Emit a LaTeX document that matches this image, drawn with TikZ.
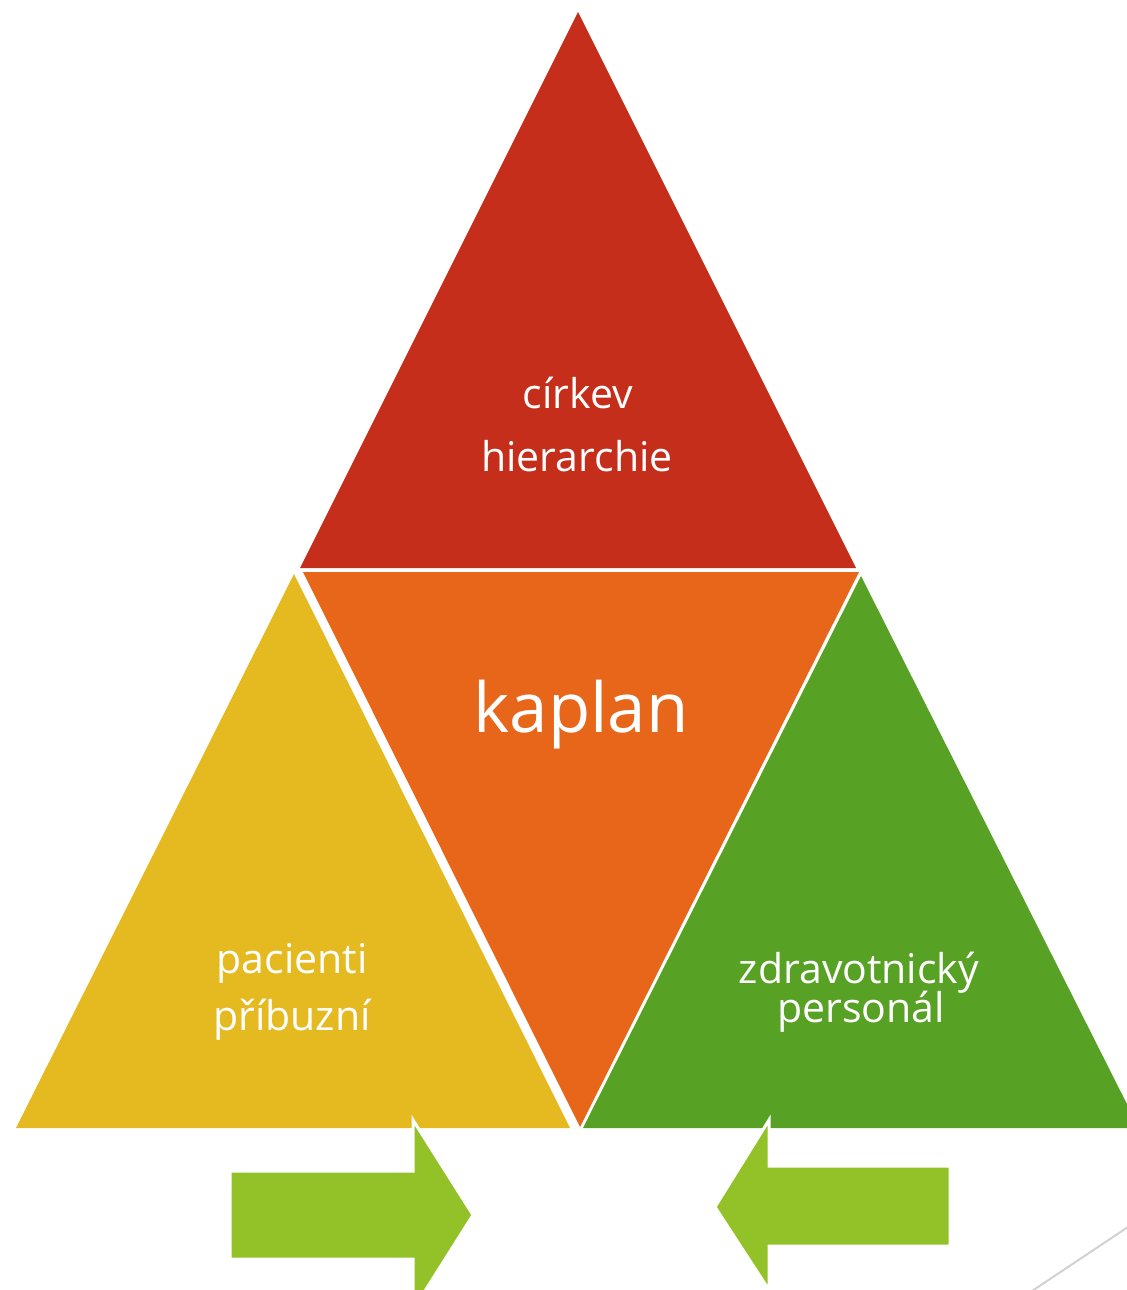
\documentclass[tikz,border=0pt]{standalone}
\usepackage{fontspec}
\setmainfont{Open Sans}
\definecolor{tred}{HTML}{C42E1A}
\definecolor{torange}{HTML}{E7661A}
\definecolor{tyellow}{HTML}{E5B920}
\definecolor{tgreen}{HTML}{57A124}
\definecolor{tarrow}{HTML}{92C227}
\begin{document}
\begin{tikzpicture}[x=0.5pt,y=-0.5pt,
  lbl/.style={text=white, inner sep=0, anchor=base, font=\fontsize{20.5}{24}\selectfont},
  arr/.style={fill=tarrow, draw=white, line width=1.5pt, line join=miter}]
\useasboundingbox (0,0) rectangle (1127,1290);
\clip (0,0) rectangle (1127,1290);
% triangles
\fill[tred] (578,12) -- (856,568) -- (300,568) -- cycle;
\fill[torange] (303,572) -- (859,572) -- (580,1127) -- cycle;
\fill[tyellow] (294,574) -- (570,1128) -- (16,1128) -- cycle;
\fill[tgreen] (861,576) -- (1139,1128) -- (583,1128) -- cycle;
% labels
\node[lbl] (cirkev) at (578,408) {církev};
\node[lbl] (hier) at (577,471) {hierarchie};
\node[lbl, font=\fontsize{34.5}{40}\selectfont] (kaplan) at (581,732) {kaplan};
\node[lbl] (pac) at (292,973) {pacienti};
\node[lbl] (pribuz) at (292,1030) {příbuzní};
\node[lbl] (zdrav) at (859,983) {zdravotnický};
\node[lbl] (pers) at (861,1022) {personál};
% arrows
\filldraw[arr] (230,1171) -- (413,1171) -- (413,1120) -- (473,1215) -- (413,1310)
  -- (413,1259) -- (230,1259) -- cycle;
\filldraw[arr] (950,1166) -- (769,1166) -- (769,1120) -- (715,1207) -- (769,1290)
  -- (769,1246) -- (950,1246) -- cycle;
\draw[black!18, line width=1pt] (1020,1299) -- (1140,1219);
\end{tikzpicture}
\end{document}
